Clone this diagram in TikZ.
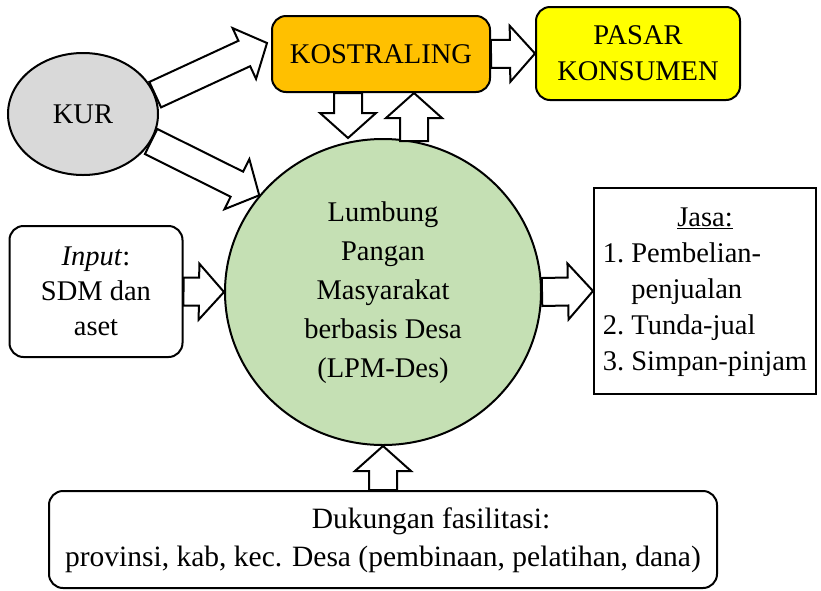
\documentclass[tikz,border=0pt]{standalone}
\usepackage{fontspec}
\setmainfont{Liberation Serif}
\usetikzlibrary{calc}
\usetikzlibrary{shapes.geometric}

\definecolor{kurgray}{HTML}{D9D9D9}
\definecolor{kostorange}{HTML}{FFC000}
\definecolor{pasaryellow}{HTML}{FFFF00}
\definecolor{lpmgreen}{HTML}{C5E0B4}

\tikzset{
  box/.style={draw, line width=2pt, rounded corners=14pt, align=center, inner sep=0pt},
  fatarrow/.style={draw, fill=white, line width=2pt, line join=miter},
}

% hollow block arrow from #1 to #2 (shaft 28pt, head 56pt wide, 25pt long)
\newcommand{\blockarrow}[2]{%
  \path[fatarrow] let \p1=(#1), \p2=(#2), \p3=($(#2)!25pt!(#1)$) in
    ($(\p1)!14pt!90:(\p2)$) -- ($(\p3)!14pt!90:(\p2)$) -- ($(\p3)!28pt!90:(\p2)$)
    -- (\p2)
    -- ($(\p3)!28pt!-90:(\p2)$) -- ($(\p3)!14pt!-90:(\p2)$) -- ($(\p1)!14pt!-90:(\p2)$)
    -- cycle;}

\begin{document}
\begin{tikzpicture}[x=1pt, y=-1pt, every node/.style={font=\fontsize{28.5}{36}\selectfont}]
				\useasboundingbox (0,0) rectangle (821,590);

				% Top row
				\node[box, ellipse, fill=kurgray, minimum width=150pt, minimum height=122pt] (kur) at (83,114) {KUR};
				\node[box, fill=kostorange, minimum width=218pt, minimum height=76pt] (kost) at (381,54) {KOSTRALING};
				\node[box, fill=pasaryellow, minimum width=204pt, minimum height=93pt] (pasar) at (638,53.5) {PASAR\\KONSUMEN};

				% Centre circle
				\node[box, ellipse, fill=lpmgreen, minimum width=316pt, minimum height=306pt,
				      font=\fontsize{28.5}{39}\selectfont] (lpm) at (383,292)
				      {\raisebox{-4pt}{\begin{tabular}{@{}c@{}}Lumbung\\Pangan\\Masyarakat\\berbasis Desa\\(LPM-Des)\end{tabular}}};

				% Side boxes
				\node[box, fill=white, minimum width=173pt, minimum height=131pt,
				      font=\fontsize{28.5}{35}\selectfont] (input) at (96,291.5) {\textit{Input}:\\SDM dan\\aset};
				\node[draw, line width=2pt, fill=white, minimum width=222pt, minimum height=206pt, inner sep=0pt] (jasa) at (705,291)
				      {\raisebox{-5pt}{\begin{tabular}{@{}l@{}}
				        \multicolumn{1}{c}{\underline{Jasa:}}\\
				        1.~Pembelian-\\
				        \phantom{1.~}penjualan\\
				        2.~Tunda-jual\\
				        3.~Simpan-pinjam
				      \end{tabular}}};

				% Bottom box
				\node[box, fill=white, minimum width=668pt, minimum height=97pt,
				      font=\fontsize{29.5}{38}\selectfont] (dukungan) at (383,539.5)
				      {\raisebox{-5pt}{\begin{tabular}{@{}c@{}}\hspace*{96pt}Dukungan fasilitasi:\\provinsi, kab, kec. Desa (pembinaan, pelatihan, dana)\end{tabular}}};

				% Arrow ends
				\coordinate (kurA) at (kur.15);
				\coordinate (kurB) at (kur.-22);
				\coordinate (kostIn) at ([xshift=-4pt, yshift=11pt]kost.west);
				\coordinate (kostDown) at ([xshift=-33pt]kost.south);
				\coordinate (lpmDown) at (kostDown |- lpm.north);
				\coordinate (kostUp) at ([xshift=33pt]kost.south);
				\coordinate (lpmUp) at ([yshift=-3pt]kostUp |- lpm.north);

				% Block arrows
				\blockarrow{kurA}{kostIn}
				\blockarrow{kurB}{lpm.142}
				\blockarrow{kostDown}{lpmDown}
				\blockarrow{lpmUp}{kostUp}
				\blockarrow{kost.east}{pasar.west}
				\blockarrow{input.east}{lpm.west}
				\blockarrow{lpm.east}{jasa.west}
				\blockarrow{dukungan.north}{lpm.south}
			\end{tikzpicture}
\end{document}
